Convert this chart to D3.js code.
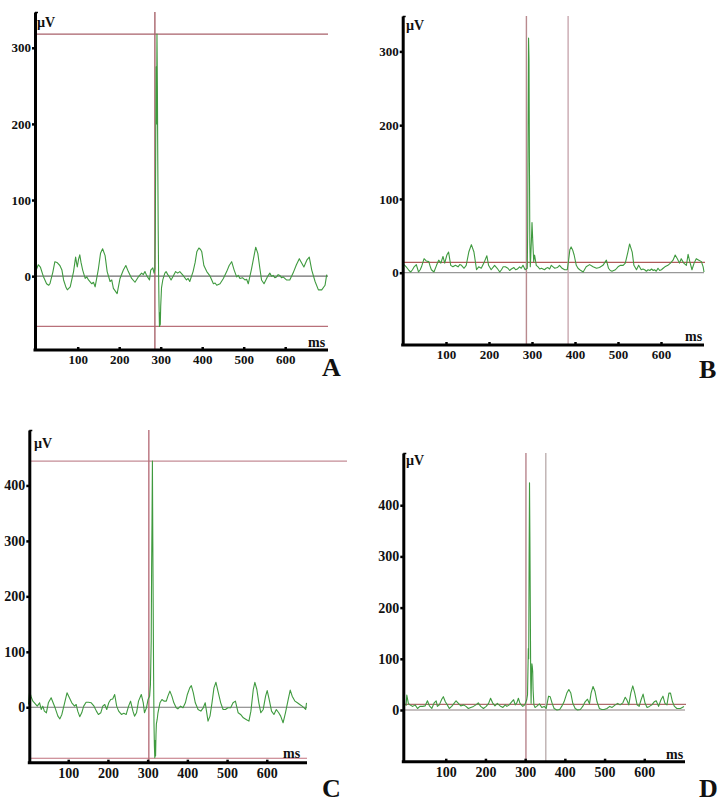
<!DOCTYPE html>
<html>
<head>
<meta charset="utf-8">
<script src="https://cdn.jsdelivr.net/npm/d3@7"></script>
<style>
  body { margin: 0; background: #fff; }
  text { font-family: "Liberation Serif", "Times New Roman", serif; font-weight: bold; fill: #111; }
</style>
</head>
<body>
<svg id="chart" width="720" height="803"></svg>
<script>
// ======================
// DATA (ms, µV)
// ======================

const xTicks = [100, 200, 300, 400, 500, 600];
const yTicksAB = [0, 100, 200, 300];
const yTicksCD = [0, 100, 200, 300, 400];

const traceA = [[0,8],[5,15],[10,12],[17,0],[25,-10],[30,-12],[33,-10],[40,5],[45,19],[50,18],[57,14],[62,8],[66,-5],[72,-15],[75,-18],[82,-14],[90,6],[95,25],[97,18],[99,12],[102,22],[105,28],[108,18],[112,8],[118,-3],[122,-1],[126,-5],[134,-10],[138,-8],[142,-14],[150,10],[155,30],[160,36],[166,27],[171,6],[178,-7],[182,-5],[186,-16],[195,-23],[202,-3],[210,8],[216,14],[222,6],[230,-3],[238,-8],[246,-1],[254,4],[258,2],[262,6],[266,1],[273,-5],[276,8],[281,11],[284,4],[286,10],[287,60],[288,170],[289,275],[290,200],[291,318],[292,250],[293,150],[294,60],[295,0],[296,-40],[297,-66],[298,-48],[299,-64],[300,-40],[302,-15],[305,-5],[310,4],[313,6],[317,2],[320,0],[325,-5],[330,0],[336,6],[341,4],[346,6],[354,1],[362,-5],[366,-3],[370,-7],[378,6],[383,18],[387,32],[392,37],[396,35],[399,32],[404,14],[411,6],[415,3],[419,0],[427,-10],[431,-9],[435,-12],[443,-10],[451,-3],[459,6],[465,14],[471,19],[477,8],[483,-1],[487,1],[491,-3],[497,-2],[503,-5],[507,-4],[511,-10],[519,10],[525,27],[529,38],[534,30],[539,10],[543,-5],[549,-10],[557,-1],[563,4],[567,0],[571,1],[575,-2],[579,-1],[583,2],[587,1],[591,-2],[595,-1],[599,-3],[603,-5],[611,-5],[619,4],[627,15],[634,23],[640,17],[645,12],[652,21],[658,25],[664,8],[672,-7],[680,-18],[688,-18],[696,-12],[700,2]];

const traceB = [[0,14],[2,11],[6,9],[10,6],[14,3],[18,1],[22,4],[26,8],[31,11],[34,5],[36,1],[40,4],[43,8],[49,19],[54,16],[60,15],[63,9],[66,4],[72,1],[78,10],[83,17],[88,13],[93,22],[97,13],[102,24],[106,28],[111,10],[116,8],[122,10],[128,8],[132,11],[136,10],[142,6],[147,10],[153,28],[159,38],[165,28],[171,4],[176,8],[182,6],[188,13],[195,23],[199,10],[205,4],[213,10],[219,6],[225,1],[229,4],[233,8],[238,8],[244,6],[248,3],[252,5],[258,7],[262,4],[266,5],[271,8],[275,6],[279,10],[284,4],[289,6],[290,60],[291,200],[292,318],[293,290],[294,150],[295,40],[296,8],[297,20],[299,50],[300,68],[302,40],[304,15],[306,24],[310,10],[314,8],[318,5],[322,6],[329,4],[333,6],[337,7],[341,5],[345,10],[349,8],[353,6],[359,7],[364,10],[370,6],[376,4],[382,4],[384,12],[388,31],[391,35],[395,30],[398,24],[403,10],[407,6],[411,4],[419,1],[426,8],[434,11],[442,8],[450,6],[457,7],[465,10],[473,17],[478,6],[482,3],[486,2],[494,4],[500,8],[506,10],[512,10],[517,13],[523,28],[527,39],[533,28],[537,10],[543,4],[548,10],[554,4],[558,5],[562,4],[566,2],[570,4],[574,3],[578,5],[582,3],[585,4],[589,2],[593,6],[597,3],[601,4],[605,6],[609,8],[616,10],[622,13],[628,17],[633,24],[638,19],[643,13],[647,19],[653,13],[659,10],[663,25],[667,15],[672,4],[677,13],[682,19],[688,17],[694,15],[698,8],[700,1]];

const traceC = [[0,5],[3,29],[7,18],[11,11],[15,8],[22,2],[28,8],[32,-4],[36,2],[40,-7],[45,-10],[50,8],[57,17],[62,8],[67,-1],[74,-16],[79,-21],[84,-13],[91,8],[97,26],[103,17],[109,8],[116,2],[120,5],[124,-7],[129,-17],[134,-10],[139,2],[145,9],[151,9],[158,8],[165,2],[171,-7],[176,-13],[182,-10],[187,2],[192,5],[197,-4],[202,8],[207,14],[212,15],[217,23],[222,2],[227,-7],[234,-13],[240,-11],[246,-13],[252,2],[257,11],[263,-7],[267,-16],[272,-10],[277,11],[284,23],[289,8],[292,-10],[297,-1],[301,14],[305,20],[307,40],[309,120],[310,250],[311,335],[312,444],[313,300],[314,180],[315,60],[316,-30],[317,-70],[318,-91],[319,-60],[320,-88],[321,-50],[322,-30],[324,-22],[326,-10],[331,8],[336,14],[341,11],[347,11],[351,20],[356,29],[361,20],[366,8],[372,-1],[376,-3],[383,2],[389,-1],[395,8],[400,23],[406,35],[410,39],[415,26],[420,8],[427,-4],[434,-7],[440,-1],[445,8],[452,-25],[457,-16],[462,8],[467,35],[472,45],[477,29],[484,8],[490,-4],[496,-4],[502,-1],[509,-1],[515,8],[521,11],[528,-10],[534,-13],[541,-19],[548,-22],[555,-25],[560,-7],[566,32],[570,45],[575,32],[580,8],[585,-10],[591,-4],[597,20],[601,30],[606,14],[612,-7],[618,-13],[624,-4],[630,-10],[635,-16],[641,-28],[647,-10],[654,14],[659,31],[664,20],[671,11],[677,8],[683,5],[689,2],[694,-1],[698,-4],[700,8]];

const traceD = [[0,8],[2,29],[6,13],[10,10],[17,7],[23,10],[29,3],[35,7],[42,7],[48,8],[54,18],[59,8],[65,3],[71,14],[76,18],[79,7],[84,10],[90,21],[94,26],[99,16],[104,10],[109,3],[115,7],[121,13],[126,18],[132,13],[138,8],[145,10],[151,7],[157,3],[163,5],[170,7],[176,10],[182,14],[188,7],[195,3],[202,7],[208,13],[213,23],[218,14],[224,8],[230,13],[237,8],[244,5],[250,10],[254,7],[260,10],[266,16],[271,20],[275,10],[279,14],[283,23],[287,13],[294,7],[299,10],[304,20],[306,30],[308,120],[309,100],[310,300],[311,444],[312,333],[313,200],[314,60],[315,13],[316,70],[317,90],[318,85],[319,75],[320,40],[322,10],[325,5],[329,7],[336,12],[342,5],[348,7],[353,3],[359,27],[363,26],[368,13],[373,3],[380,0],[387,1],[392,7],[398,16],[405,33],[410,40],[415,33],[420,13],[426,3],[432,0],[439,1],[445,7],[451,16],[457,21],[462,12],[466,33],[471,46],[476,36],[481,16],[487,3],[493,1],[499,1],[506,3],[513,7],[519,5],[527,10],[533,13],[539,10],[546,14],[552,25],[556,20],[561,10],[566,33],[571,47],[576,33],[582,10],[587,7],[592,20],[597,31],[602,13],[607,5],[613,7],[619,10],[625,16],[630,18],[636,7],[642,20],[647,27],[652,13],[657,10],[662,33],[666,33],[671,16],[676,7],[682,3],[691,3],[700,7]];

// cursor positions
const cursorsHA = [318, -66];
const cursorsVA = [286];
const cursorsHB = [14];
const cursorsVB = [287, 384];
const cursorsHC = [444, -92];
const cursorsVC = [303];
const cursorsHD = [11];
const cursorsVD = [302, 352];

// ======================
// PANEL LAYOUT
// ======================

const panels = [
    { letter: "A", trace: traceA, hCur: cursorsHA, vCur: cursorsVA, yTicks: yTicksAB,
      axisX: 35, xRange: [36.2, 326.7], xEnd: 328, yDomain: [-97, 347], yRange: [350, 12],
      hExt: [328, 328], hColor: ["#a8606a", "#b8707a"], vColor: ["#a8646c"],
      zeroColor: "#6e6e6e", fs: 13, uv: [37, 27], ms: [308, 347], lab: [322, 376] },
    { letter: "B", trace: traceB, hCur: cursorsHB, vCur: cursorsVB, yTicks: yTicksAB,
      axisX: 402.7, xRange: [403, 704], xEnd: 704, yDomain: [-98, 348], yRange: [345, 16],
      hExt: [705], hColor: ["#b05a5a"], vColor: ["#b98a8e", "#c9a8b0"],
      zeroColor: "#999", fs: 13, uv: [406, 30], ms: [685, 341], lab: [699, 378] },
    { letter: "C", trace: traceC, hCur: cursorsHC, vCur: cursorsVC, yTicks: yTicksCD,
      axisX: 29.3, xRange: [28.5, 306.5], xEnd: 307, yDomain: [-100, 500], yRange: [762.7, 430],
      hExt: [347, 307], hColor: ["#c48c96", "#c0707c"], vColor: ["#b8707c"],
      zeroColor: "#777", fs: 14, uv: [34, 448], ms: [283, 758], lab: [322, 797] },
    { letter: "D", trace: traceD, hCur: cursorsHD, vCur: cursorsVD, yTicks: yTicksCD,
      axisX: 403.3, xRange: [406, 684], xEnd: 685, yDomain: [-101, 502], yRange: [761.7, 453],
      hExt: [686], hColor: ["#b06b6b"], vColor: ["#b8848c", "#bdb0b0"],
      zeroColor: "#8c8080", fs: 14, uv: [406, 465], ms: [666, 759], lab: [699, 797] }
];

const svg = d3.select("#chart");
const lineColor = "#3f9a3f";

// ======================
// DRAW ONE PANEL
// ======================

function drawPanel(p) {
    const g = svg.append("g");
    const x = d3.scaleLinear().domain([0, 700]).range(p.xRange);
    const y = d3.scaleLinear().domain(p.yDomain).range(p.yRange);
    const top = p.yRange[1], bottom = p.yRange[0];

    // zero line
    g.append("line")
        .attr("x1", p.axisX).attr("x2", p.xEnd)
        .attr("y1", y(0)).attr("y2", y(0))
        .attr("stroke", p.zeroColor).attr("stroke-width", 1.2);

    // horizontal cursors
    p.hCur.forEach((v, i) => {
        g.append("line")
            .attr("x1", p.axisX).attr("x2", p.hExt[i])
            .attr("y1", y(v)).attr("y2", y(v))
            .attr("stroke", p.hColor[i]).attr("stroke-width", 1.2);
    });

    // vertical cursors
    p.vCur.forEach((v, i) => {
        g.append("line")
            .attr("x1", x(v)).attr("x2", x(v))
            .attr("y1", top).attr("y2", bottom)
            .attr("stroke", p.vColor[i]).attr("stroke-width", 1.4);
    });

    // signal trace
    g.append("path")
        .datum(p.trace)
        .attr("fill", "none")
        .attr("stroke", lineColor)
        .attr("stroke-width", 1.1)
        .attr("stroke-linejoin", "round")
        .attr("d", d3.line().x(d => x(d[0])).y(d => y(d[1])));

    // y axis
    const yAxisG = g.append("g")
        .attr("transform", `translate(${p.axisX},0)`)
        .call(d3.axisLeft(y).tickValues(p.yTicks).tickSize(3).tickPadding(1).tickSizeOuter(0));
    yAxisG.select(".domain").attr("stroke", "#000").attr("stroke-width", 3);
    yAxisG.selectAll(".tick line").attr("stroke", "#000").attr("stroke-width", 2.5);
    yAxisG.selectAll(".tick text")
        .attr("font-size", p.fs).attr("font-family", "Liberation Serif")
        .attr("font-weight", "bold").attr("fill", "#111");
    // small hook at top of the axis
    g.append("line")
        .attr("x1", p.axisX).attr("x2", p.axisX + 3)
        .attr("y1", top + 0.5).attr("y2", top + 0.5)
        .attr("stroke", "#000").attr("stroke-width", 1.5);

    // x axis
    const xAxisG = g.append("g")
        .attr("transform", `translate(0,${bottom})`)
        .call(d3.axisBottom(x).tickValues(xTicks).tickSize(-3).tickPadding(5).tickSizeOuter(0));
    xAxisG.select(".domain")
        .attr("d", `M${p.axisX - 1.5},0H${p.xEnd}`)
        .attr("stroke", "#000").attr("stroke-width", 3);
    xAxisG.selectAll(".tick line").attr("stroke", "#000").attr("stroke-width", 2.5);
    xAxisG.selectAll(".tick text")
        .attr("font-size", p.fs).attr("font-family", "Liberation Serif")
        .attr("font-weight", "bold").attr("fill", "#111");

    // unit labels
    g.append("text").attr("x", p.uv[0]).attr("y", p.uv[1])
        .attr("font-size", 14).text("µV");
    g.append("text").attr("x", p.ms[0]).attr("y", p.ms[1])
        .attr("font-size", 14).text("ms");

    // panel letter
    g.append("text").attr("x", p.lab[0]).attr("y", p.lab[1])
        .attr("font-size", 26).text(p.letter);
}

panels.forEach(drawPanel);
</script>
</body>
</html>
